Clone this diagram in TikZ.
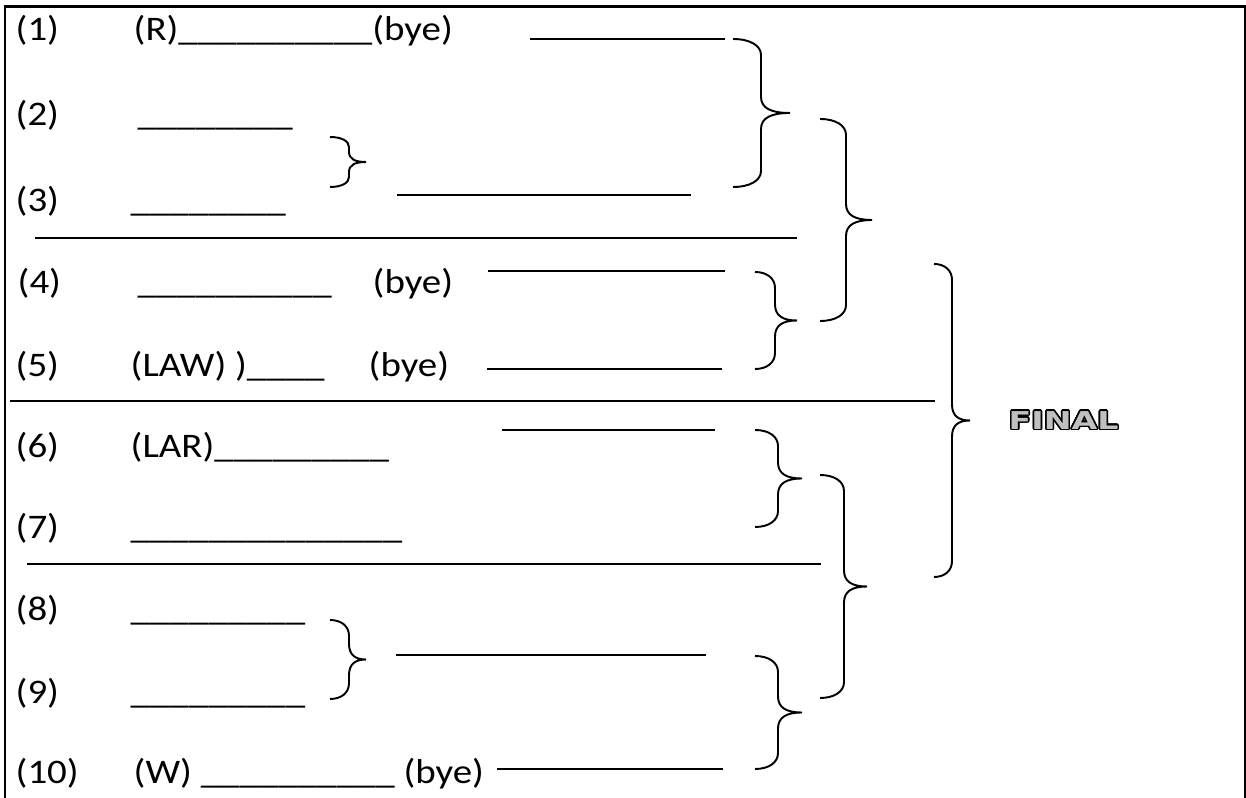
\documentclass[tikz,border=0pt]{standalone}
\usepackage{fontspec}
\usepackage[copies]{contour}
\usepackage{tikz}

\newfontfamily\rowfont{Carlito}[FakeStretch=1.13]
\newfontfamily\finalfont{DejaVu Sans}[FakeStretch=1.35]
\definecolor{finalgray}{RGB}{192,192,192}
\contourlength{0.45pt}

% run of n underscores
\newcommand{\blanks}[1]{\foreach \k in {1,...,#1}{\_}}

% right brace: left x, body x, tip x, top y, bottom y
\newcommand{\bkt}[5]{%
	\pgfmathsetmacro{\bkm}{(#4+#5)/2}
	\pgfmathsetmacro{\bkr}{min(16,(#5-#4)/5)}
	\pgfmathsetmacro{\bkx}{#2+0.35*(#3-#2)}
	\draw[bracestyle] (#1,#4) .. controls ({#1+0.6*(#2-#1)},#4) and (#2,{#4+0.4*\bkr}) .. (#2,{#4+\bkr})
		-- (#2,{\bkm-\bkr}) .. controls (#2,{\bkm-0.3*\bkr}) and (\bkx,\bkm) .. (#3,\bkm)
		.. controls (\bkx,\bkm) and (#2,{\bkm+0.3*\bkr}) .. (#2,{\bkm+\bkr})
		-- (#2,{#5-\bkr}) .. controls (#2,{#5-0.4*\bkr}) and ({#1+0.6*(#2-#1)},#5) .. (#1,#5);
}

\begin{document}
\begin{tikzpicture}[x=0.01cm, y=-0.01cm,
		lbl/.style={anchor=base west, inner sep=0pt, font=\rowfont\fontsize{9.8pt}{12pt}\selectfont},
		rule/.style={line width=0.55pt},
		bracestyle/.style={line width=0.55pt},
		frame/.style={line width=0.85pt}]
		\useasboundingbox (0,0) rectangle (1246,798);

		% Outer frame (open at the bottom)
		\draw[frame] (5,798) |- (1245,6.5) -- (1245,798);

		% First round entries
		\node[lbl] (n1) at (15,41) {(1)};
		\node[lbl] (t1) at (133,41) {(R)\blanks{10}(bye)};
		\node[lbl] (n2) at (15,126) {(2)};
		\node[lbl] (t2) at (137,126) {\blanks{8}};
		\node[lbl] (n3) at (15,212) {(3)};
		\node[lbl] (t3) at (130,212) {\blanks{8}};
		\node[lbl] (n4) at (17,294) {(4)};
		\node[lbl] (t4) at (137,294) {\blanks{10}};
		\node[lbl] (b4) at (372,294) {(bye)};
		\node[lbl] (n5) at (15,377) {(5)};
		\node[lbl] (t5) at (130,377) {(LAW) )\blanks{4}};
		\node[lbl] (b5) at (368,377) {(bye)};
		\node[lbl] (n6) at (15,458) {(6)};
		\node[lbl] (t6) at (130,458) {(LAR)\blanks{9}};
		\node[lbl] (n7) at (15,539) {(7)};
		\node[lbl] (t7) at (130,539) {\blanks{14}};
		\node[lbl] (n8) at (15,621) {(8)};
		\node[lbl] (t8) at (130,621) {\blanks{9}};
		\node[lbl] (n9) at (15,703) {(9)};
		\node[lbl] (t9) at (130,703) {\blanks{9}};
		\node[lbl] (n10) at (15,783) {(10)};
		\node[lbl] (t10) at (133,783) {(W) \blanks{10} (bye)};

		% Separators between groups
		\draw[rule] (35,238) -- (797,238);
		\draw[rule] (10,401) -- (935,401);
		\draw[rule] (27,564) -- (821,564);

		% Second round lines
		\draw[rule] (530,39) -- (725,39);
		\draw[rule] (397,195) -- (691,195);
		\draw[rule] (488,271) -- (725,271);
		\draw[rule] (487,369) -- (722,369);
		\draw[rule] (502,430) -- (715,430);
		\draw[rule] (396,655) -- (706,655);
		\draw[rule] (497,769) -- (723,769);

		% Braces
		\bkt{330}{349}{366}{137}{187}
		\bkt{330}{349}{366}{620}{699}
		\bkt{733}{761}{790}{39}{187}
		\bkt{755}{775}{797}{272}{369}
		\bkt{755}{778}{802}{430}{527}
		\bkt{755}{778}{802}{656}{769}
		\bkt{820}{846}{872}{119}{321}
		\bkt{820}{844}{867}{475}{698}
		\bkt{934}{952}{970}{264}{577}

		% Final
		\node[anchor=west, inner sep=0pt] (fin) at (1008,421) {\finalfont\bfseries\fontsize{7pt}{8pt}\selectfont\contour{black}{\textcolor{finalgray}{FINAL}}};

	\end{tikzpicture}
\end{document}
